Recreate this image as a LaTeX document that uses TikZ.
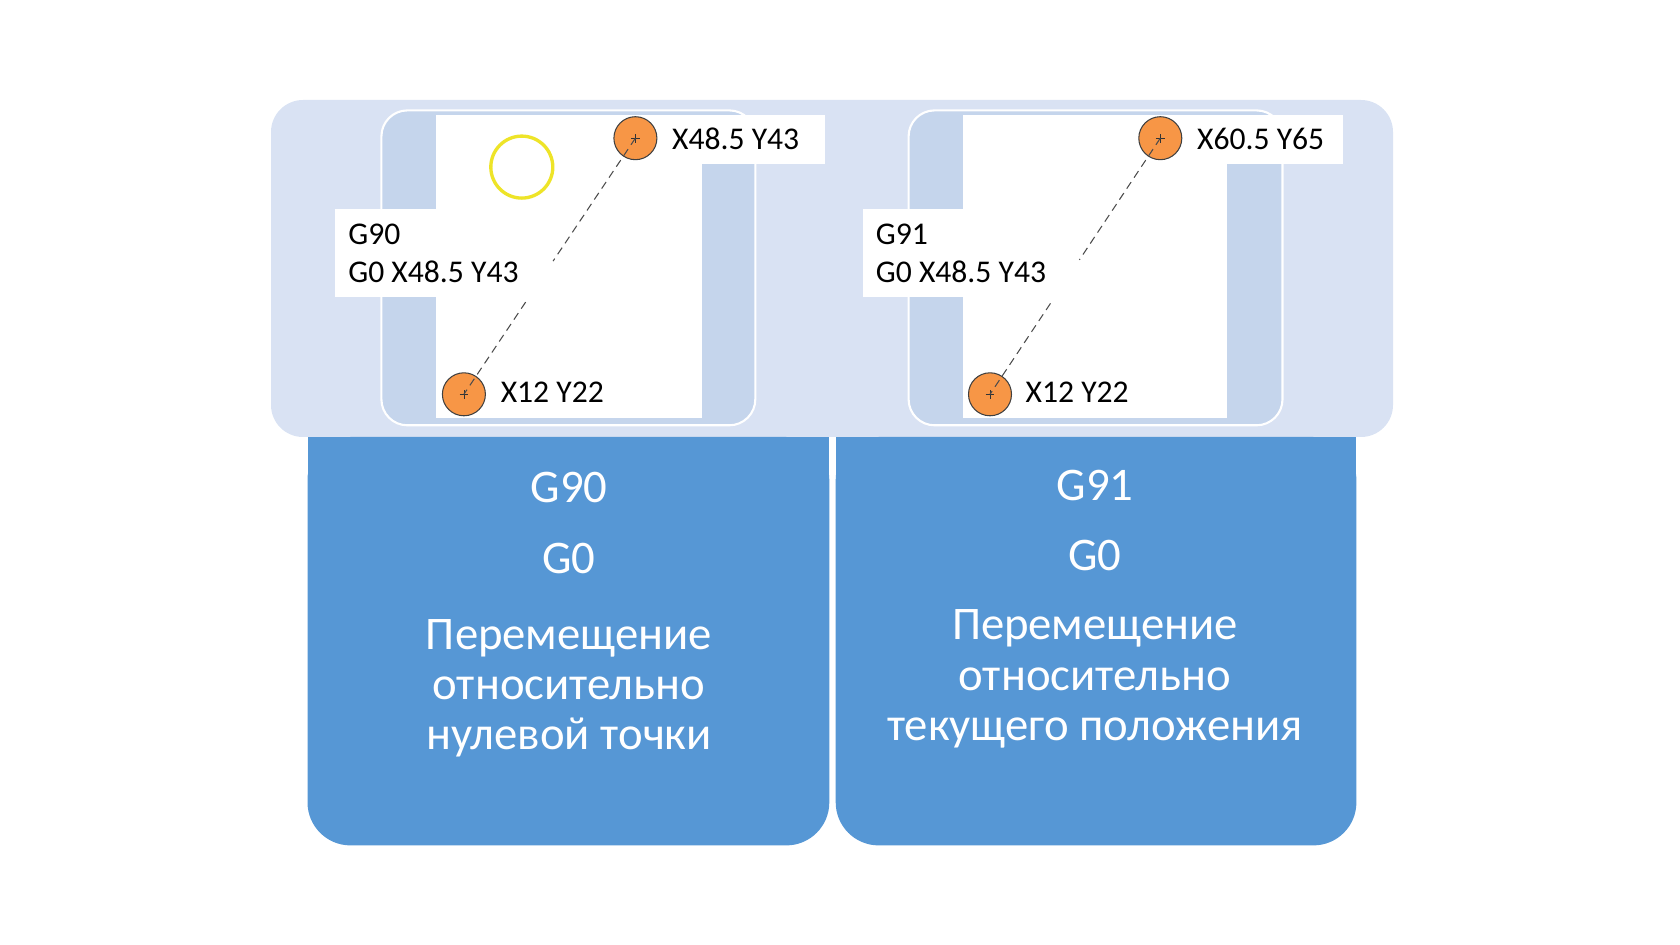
\documentclass[tikz,border=0pt]{standalone}
\usepackage{fontspec}
\setmainfont{Carlito}
\usetikzlibrary{positioning,calc}
\definecolor{bandblue}{RGB}{217,226,243}
\definecolor{panelblue}{RGB}{197,213,236}
\definecolor{boxblue}{RGB}{86,151,213}
\definecolor{spotorange}{RGB}{247,150,70}
\definecolor{ringyellow}{RGB}{238,228,40}

\begin{document}
\begin{tikzpicture}[x=0.02cm,y=-0.02cm,
    band/.style={fill=bandblue,rounded corners=0.64cm},
    panel/.style={fill=panelblue,draw=white,line width=1.2pt,rounded corners=0.52cm},
    spot/.style={circle,draw=black!75,line width=0.6pt,fill=spotorange,minimum size=0.86cm,inner sep=0pt,
        path picture={\draw[black!80,line width=0.4pt]
            ($(path picture bounding box.center)+(-2.5pt,0)$) -- ++(5pt,0)
            ($(path picture bounding box.center)+(0,-2.5pt)$) -- ++(0,5pt);}},
    trace/.style={black!70,line width=0.6pt,dash pattern=on 4.5pt off 3pt},
    coordtext/.style={anchor=west,inner sep=0pt,font=\fontsize{18}{21.3}\selectfont},
    cmdbox/.style={anchor=north west,fill=white,align=left,inner xsep=7.4pt,
        minimum height=1.76cm,font=\fontsize{18}{21.3}\selectfont},
    bigtext/.style={text=white,align=center,font=\fontsize{26.6}{28.6}\selectfont}]
    \useasboundingbox (0,0) rectangle (1680,945);

    % background band and the two blue boxes
    \fill[band] (271,100) rectangle (1393,437);
    \fill[boxblue,rounded corners=0.86cm] (307.5,437) rectangle (829.3,845.4);
    \fill[boxblue] (307.5,437) rectangle (829.3,600);
    \fill[boxblue,rounded corners=0.86cm] (835.7,437) rectangle (1356.4,845.4);
    \fill[boxblue] (835.7,437) rectangle (1356.4,600);

    % left sketch: G90
    \draw[panel] (381.4,110.4) rectangle (755.3,425.3);
    \fill[white] (436,114.6) rectangle (701.8,417.9);
    \fill[white] (640,114.6) rectangle (825,164);
    \draw[ringyellow,line width=1.9pt] (521.8,167.1) circle (0.62cm);
    \node[cmdbox] (cmdL) at (335,209) {G90\\G0 X48.5 Y43};
    \node[spot] (endL) at (635.4,138.2) {};
    \node[spot] (startL) at (463.9,394.3) {};
    \coordinate (gapLa) at ($(endL.center)!0.48!(startL.center)$);
    \coordinate (gapLb) at ($(endL.center)!0.64!(startL.center)$);
    \draw[trace] (endL.center) -- (gapLa);
    \draw[trace] (gapLb) -- (startL.center);
    \node[coordtext] (endLtext) at (671.8,139.3) {X48.5 Y43};
    \node[coordtext] (startLtext) at (500.4,392) {X12 Y22};

    % right sketch: G91
    \draw[panel] (908.6,110.4) rectangle (1282.5,425.3);
    \fill[white] (963.2,114.6) rectangle (1226.8,417.9);
    \fill[white] (1160,114.6) rectangle (1342.5,164);
    \node[cmdbox] (cmdR) at (862.5,209) {G91\\G0 X48.5 Y43};
    \node[spot] (endR) at (1160.3,138.2) {};
    \node[spot] (startR) at (990,394.3) {};
    \coordinate (gapRa) at ($(endR.center)!0.475!(startR.center)$);
    \coordinate (gapRb) at ($(endR.center)!0.645!(startR.center)$);
    \draw[trace] (endR.center) -- (gapRa);
    \draw[trace] (gapRb) -- (startR.center);
    \node[coordtext] (endRtext) at (1196.8,139.3) {X60.5 Y65};
    \node[coordtext] (startRtext) at (1025.3,392) {X12 Y22};

    % texts in the blue boxes
    \node[bigtext] (modeL) at (569,487.5) {G90};
    \node[bigtext] (moveL) at (569,558) {G0};
    \node[bigtext] (descL) at (569,688.5) {Перемещение\\относительно\\нулевой точки};
    \node[bigtext] (modeR) at (1095,485.4) {G91};
    \node[bigtext] (moveR) at (1095,555) {G0};
    \node[bigtext] (descR) at (1095,679) {Перемещение\\относительно\\текущего положения};
\end{tikzpicture}
\end{document}
